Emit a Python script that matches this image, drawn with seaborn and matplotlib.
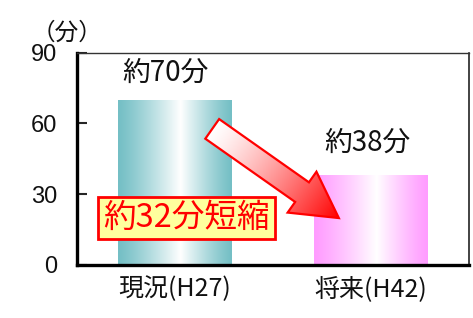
import numpy as np
import matplotlib.pyplot as plt
import matplotlib.colors as mcolors
from matplotlib.patches import Polygon
import seaborn as sns

# data
categories = ["現況(H27)", "将来(H42)"]
minutes = [70, 38]
value_labels = ["約70分", "約38分"]
bar_colors = ["#74BFC5", "#FF9CFF"]
reduction_label = "約32分短縮"
unit_label = "（分）"
yticks = [0, 30, 60, 90]

sns.set_style("white")
plt.rcParams['font.family'] = ['Noto Sans CJK JP', 'DejaVu Sans']

fig = plt.figure(figsize=(4.73, 3.18), dpi=100)
ax = fig.add_axes([0.1628, 0.1667, 0.8287, 0.6676])

sns.barplot(x=categories, y=minutes, hue=categories, palette=bar_colors,
            width=0.58, legend=False, ax=ax)
ax.set_xlim(-0.5, 1.5)
ax.set_ylim(0, 90)
ax.set_yticks(yticks)
ax.set_xlabel("")
ax.set_ylabel("")

# gradient fill for the bars (edge colour -> white -> edge colour)
prof = np.linspace(0, 1, 256)
for patch, col in zip(ax.patches, bar_colors):
    rgb = np.array(mcolors.to_rgb(col))
    w = np.where(prof < 0.55, prof / 0.55, (1 - prof) / 0.45)
    w = np.clip(w, 0, 1) ** 1.2
    img = rgb[None, :] * (1 - w[:, None]) + w[:, None]
    img = img[None, :, :]
    x0, y0 = patch.get_x(), patch.get_y()
    bw, bh = patch.get_width(), patch.get_height()
    im = ax.imshow(img, extent=[x0, x0 + bw, y0, y0 + bh], aspect='auto', zorder=2)
    im.set_clip_path(patch)
    patch.set_facecolor('none')
    patch.set_edgecolor('none')

ax.set_xlim(-0.5, 1.5)
ax.set_ylim(0, 90)

for i, (v, lab) in enumerate(zip(minutes, value_labels)):
    ax.text(i - 0.05 if i == 0 else i - 0.02, v + 11.5 if i == 0 else v + 13.7, lab,
            ha='center', va='center', fontsize=20, color='#111111', zorder=5)

# spines
for s in ['left', 'bottom']:
    ax.spines[s].set_linewidth(2.4)
    ax.spines[s].set_color('black')
ax.spines['top'].set_linewidth(1.0)
ax.spines['top'].set_color('#333333')
ax.spines['right'].set_linewidth(1.2)
ax.spines['right'].set_color('#222222')

ax.tick_params(axis='y', direction='in', length=7, width=1.5, pad=14,
               labelsize=17, left=True)
ax.tick_params(axis='x', length=0, pad=8, labelsize=18)
for t in ax.get_yticklabels():
    t.set_fontfamily(['Liberation Sans', 'DejaVu Sans'])
    t.set_color('#111111')
for t in ax.get_xticklabels():
    t.set_color('#111111')

ax.text(-0.026, 1.09, unit_label, transform=ax.transAxes, ha='center',
        va='center', fontsize=17, color='#111111')

# arrow from first bar to second bar (built in pixel space, gradient fill)
fig.canvas.draw()
start = ax.transData.transform((0.19, 57.7))
end = ax.transData.transform((0.836, 19.9))
d = end - start
L = np.hypot(*d)
u = d / L
n = np.array([-u[1], u[0]])
shaft_w, head_w, head_l = 12.0, 25.0, 45.0
base = end - u * head_l
pts = [start + n * shaft_w, base + n * shaft_w, base + n * head_w, end,
       base - n * head_w, base - n * shaft_w, start - n * shaft_w]
pts_data = ax.transData.inverted().transform(np.array(pts))
arrow = Polygon(pts_data, closed=True, facecolor='none', edgecolor='red',
                lw=1.6, zorder=7)
ax.add_patch(arrow)

xs = np.linspace(pts_data[:, 0].min(), pts_data[:, 0].max(), 200)
ys = np.linspace(pts_data[:, 1].min(), pts_data[:, 1].max(), 200)
X, Y = np.meshgrid(xs, ys[::-1])
P = ax.transData.transform(np.column_stack([X.ravel(), Y.ravel()]))
t = ((P - start) @ u) / L
t = np.clip(t, 0, 1).reshape(X.shape)
c0 = np.array([1.0, 1.0, 1.0])
c1 = np.array([1.0, 0.0, 0.0])
grad = c0 * (1 - t[..., None] ** 1.3) + c1 * (t[..., None] ** 1.3)
aim = ax.imshow(grad, extent=[xs[0], xs[-1], ys[0], ys[-1]], aspect='auto', zorder=6)
aim.set_clip_path(arrow)
ax.set_xlim(-0.5, 1.5)
ax.set_ylim(0, 90)

ax.text(0.059, 19.9, reduction_label, ha='center', va='center', fontsize=23.5,
        color='red', zorder=8,
        bbox=dict(boxstyle='square,pad=0.15', fc='#FFFF9E', ec='red', lw=2))

fig.savefig("out.png", dpi=100)
